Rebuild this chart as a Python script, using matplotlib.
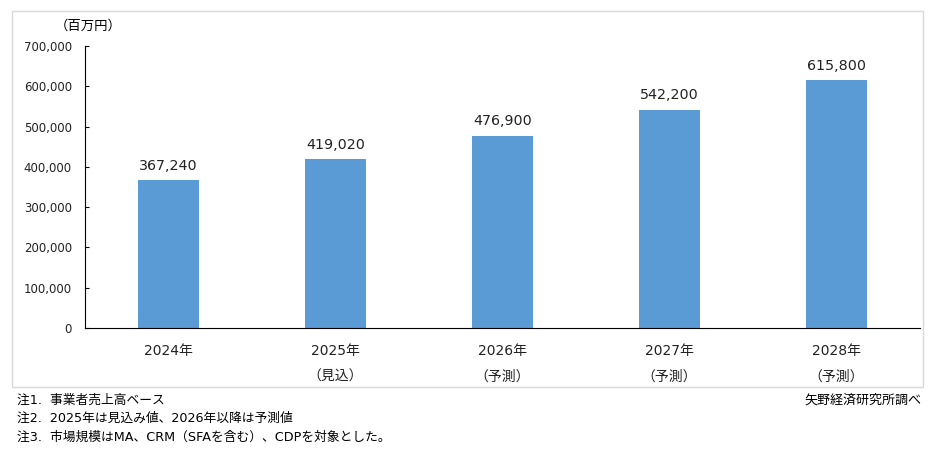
import matplotlib
matplotlib.use('Agg')
import matplotlib.pyplot as plt
from matplotlib.patches import Rectangle
from matplotlib.ticker import FuncFormatter

# digits in a Verdana-like face, Japanese from Noto CJK
plt.rcParams['font.family'] = ['DejaVu Sans', 'Noto Sans CJK JP']

years = ['2024年', '2025年', '2026年', '2027年', '2028年']
sublabels = ['', '（見込）', '（予測）', '（予測）', '（予測）']
values = [367240, 419020, 476900, 542200, 615800]
yticks = [0, 100000, 200000, 300000, 400000, 500000, 600000, 700000]
notes = ['注1.  事業者売上高ベース',
         '注2.  2025年は見込み値、2026年以降は予測値',
         '注3.  市場規模はMA、CRM（SFAを含む）、CDPを対象とした。']
source = '矢野経済研究所調べ'

fig = plt.figure(figsize=(9.33, 4.73), dpi=100)
W, H = 933, 473

# outer frame
fig.patches.append(Rectangle((12 / W, 1 - 387 / H), 911 / W, 376 / H,
                             transform=fig.transFigure, fill=False,
                             edgecolor='#D9D9D9', linewidth=1))

ax = fig.add_axes([85 / W, 1 - 328 / H, 835 / W, 282 / H])
x = range(len(values))
ax.bar(x, values, width=0.365, color='#5B9BD5')
ax.set_xlim(-0.5, len(values) - 0.5)
ax.set_ylim(0, 700000)
ax.set_yticks(yticks)
ax.yaxis.set_major_formatter(FuncFormatter(lambda v, p: f'{int(v):,}'))
ax.tick_params(axis='y', direction='in', length=3, labelsize=8.5, pad=9.5,
               colors='black', labelcolor='#222222')
ax.tick_params(axis='x', length=0, labelsize=10, pad=11.5, labelcolor='#222222')
ax.set_xticks(list(x))
ax.set_xticklabels([f'{y}\n{s}' if s else y for y, s in zip(years, sublabels)],
                   linespacing=2.05)

for s in ('top', 'right'):
    ax.spines[s].set_visible(False)
ax.spines['left'].set_color('black')
ax.spines['bottom'].set_color('black')

for xi, v in zip(x, values):
    ax.annotate(f'{v:,}', (xi, v), xytext=(0, 7.5), textcoords='offset points',
                ha='center', va='baseline', fontsize=10.3, color='#222222')

fig.text(55 / W, 1 - 26 / H, '（百万円）', fontsize=9.6, va='center', ha='left')

for i, n in enumerate(notes):
    fig.text(17 / W, 1 - (400 + i * 18.5) / H, n, fontsize=9.2, va='center', ha='left')
fig.text(921 / W, 1 - 400 / H, source, fontsize=9.4, va='center', ha='right')

fig.savefig('out.png', dpi=100)
